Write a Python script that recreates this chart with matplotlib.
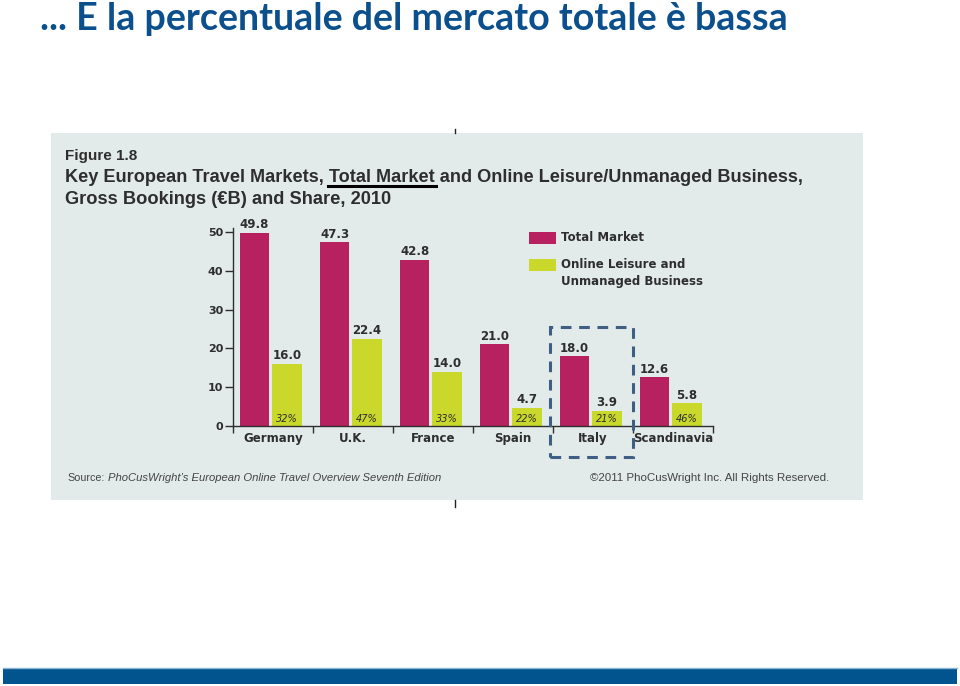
import matplotlib
matplotlib.use("Agg")
import matplotlib.pyplot as plt
import numpy as np
from matplotlib.patches import Rectangle
from matplotlib.lines import Line2D
from matplotlib import font_manager

# ---- data ----
countries = ["Germany", "U.K.", "France", "Spain", "Italy", "Scandinavia"]
total_market = [49.8, 47.3, 42.8, 21.0, 18.0, 12.6]
online_leisure = [16.0, 22.4, 14.0, 4.7, 3.9, 5.8]
online_share = ["32%", "47%", "33%", "22%", "21%", "46%"]
y_ticks = [0, 10, 20, 30, 40, 50]

W, H = 960, 686
fig = plt.figure(figsize=(W / 100, H / 100), dpi=100)
fig.patch.set_facecolor("white")
renderer = fig.canvas.get_renderer()

def fx(px):
    return px / W

def fy(py):
    return 1 - py / H

names = {f.name for f in font_manager.fontManager.ttflist}
narrow = "Liberation Sans Narrow" if "Liberation Sans Narrow" in names else "Liberation Sans"
title_font = "Lato" if "Lato" in names else "DejaVu Sans"

PINK = "#B8215F"
GREEN = "#C9D82B"
BG = "#E2EBE9"
DARK = "#2E2E2E"
BLUE = "#0B4F8C"

def text_width(s, size, **kw):
    t = fig.text(0, 0, s, fontsize=size, **kw)
    w = t.get_window_extent(renderer).width
    t.remove()
    return w

def fit_text(px, py, s, target_w, base=12, **kw):
    w = text_width(s, base, **kw)
    size = base * target_w / w
    return fig.text(fx(px), fy(py), s, fontsize=size, ha="left", va="baseline", **kw), size

# slide title
fit_text(40, 30, "... E la percentuale del mercato totale è bassa", 745,
         fontweight="bold", color=BLUE, family=title_font)

# panel background
fig.add_artist(Rectangle((fx(51), fy(500)), fx(863) - fx(51), fy(133) - fy(500),
                         transform=fig.transFigure, facecolor=BG, edgecolor="none", zorder=0))
# small marks
fig.add_artist(Line2D([fx(455), fx(455)], [fy(129), fy(133)], transform=fig.transFigure,
                      color="#222222", lw=1))
fig.add_artist(Line2D([fx(455), fx(455)], [fy(500), fy(507)], transform=fig.transFigure,
                      color="#222222", lw=1))

# figure header
hkw = dict(fontweight="bold", color=DARK, family=narrow)
fit_text(65, 160, "Figure 1.8", 72, **hkw)
line1 = "Key European Travel Markets, Total Market and Online Leisure/Unmanaged Business,"
_, hsize = fit_text(65, 182, line1, 732, **hkw)
fit_text(65, 204, "Gross Bookings (\u20acB) and Share, 2010", 324, **hkw)
pre_w = text_width("Key European Travel Markets, ", hsize, **hkw)
tm_w = text_width("Total Market", hsize, **hkw)
fig.add_artist(Line2D([fx(65 + pre_w - 1), fx(65 + pre_w + tm_w + 1)], [fy(186), fy(186)],
                      transform=fig.transFigure, color="black", lw=2.2))

# chart axes
ax = fig.add_axes([fx(233), fy(426), fx(713) - fx(233), fy(228) - fy(426)])
ax.set_facecolor("none")
x = np.arange(len(countries))
bw = 0.37
ax.bar(x - 0.23, total_market, width=bw, color=PINK, zorder=2)
ax.bar(x + 0.175, online_leisure, width=bw, color=GREEN, zorder=2)
for xi, v in zip(x, total_market):
    ax.text(xi - 0.23, v + 0.4, f"{v:.1f}", ha="center", va="bottom", fontsize=8.5,
            fontweight="bold", color=DARK, family="DejaVu Sans")
for xi, v in zip(x, online_leisure):
    ax.text(xi + 0.175, v + 0.4, f"{v:.1f}", ha="center", va="bottom", fontsize=8.5,
            fontweight="bold", color=DARK, family="DejaVu Sans")
for xi, s in zip(x, online_share):
    ax.text(xi + 0.175, 0.4, s, ha="center", va="bottom", fontsize=7,
            fontstyle="italic", color=DARK, family="DejaVu Sans")

ax.set_xlim(-0.5, len(countries) - 0.5)
ax.set_ylim(0, 51)
ax.set_yticks(y_ticks)
ax.set_yticklabels([str(t) for t in y_ticks], fontsize=8, fontweight="bold", color=DARK)
ax.set_xticks(x)
ax.set_xticklabels(countries, fontsize=8.5, fontweight="bold", color=DARK)
ax.set_xticks(np.arange(-0.5, len(countries)), minor=True)
ax.tick_params(axis="x", which="major", length=0, pad=4)
ax.tick_params(axis="x", which="minor", length=5, width=1, color=DARK, direction="out")
ax.tick_params(axis="y", length=6, width=1, color=DARK, direction="out", pad=1)
for s in ["top", "right"]:
    ax.spines[s].set_visible(False)
for s in ["left", "bottom"]:
    ax.spines[s].set_color(DARK)
    ax.spines[s].set_linewidth(1)

# legend
fig.add_artist(Rectangle((fx(529), fy(244)), fx(556) - fx(529), fy(232) - fy(244),
                         transform=fig.transFigure, facecolor=PINK, edgecolor="none"))
fig.add_artist(Rectangle((fx(529), fy(271)), fx(556) - fx(529), fy(259) - fy(271),
                         transform=fig.transFigure, facecolor=GREEN, edgecolor="none"))
fig.text(fx(561), fy(238), "Total Market", fontsize=8.5, fontweight="bold", color=DARK,
         family="DejaVu Sans", ha="left", va="center")
fig.text(fx(561), fy(273), "Online Leisure and\nUnmanaged Business", fontsize=8.5,
         fontweight="bold", color=DARK, family="DejaVu Sans", ha="left", va="center",
         linespacing=1.35)

# dashed highlight around Italy
fig.add_artist(Rectangle((fx(550), fy(457)), fx(633) - fx(550), fy(327) - fy(457),
                         transform=fig.transFigure, facecolor="none", edgecolor="#3F5E84",
                         lw=2.2, linestyle=(0, (3.5, 2.5)), zorder=5))

# source line
skw = dict(color="#444444", family=narrow)
fit_text(67, 481, "Source:", 37, **skw)
fit_text(108, 481, "PhoCusWright\u2019s European Online Travel Overview Seventh Edition", 334,
         style="italic", **skw)
fit_text(590, 481, "\u00a92011 PhoCusWright Inc. All Rights Reserved.", 238, **skw)

# bottom band
fig.add_artist(Rectangle((fx(3), fy(684)), fx(957) - fx(3), fy(668) - fy(684),
                         transform=fig.transFigure, facecolor="#02548F", edgecolor="none"))
fig.add_artist(Line2D([fx(3), fx(957)], [fy(668), fy(668)], transform=fig.transFigure,
                      color="#8DB3D5", lw=1))

fig.savefig("out.png", dpi=100)
